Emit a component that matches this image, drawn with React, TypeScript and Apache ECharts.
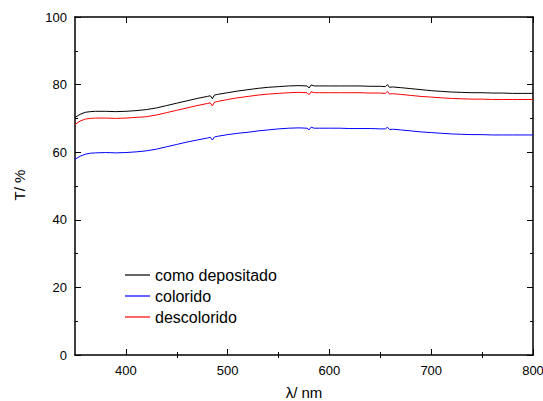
import React, { useEffect, useRef } from "react";
import * as echarts from "echarts";

const wavelengths = [350, 355, 360, 365, 370, 380, 390, 400, 410, 420, 430, 440, 450, 460, 470, 480, 483, 485, 487, 490, 500, 510, 520, 530, 540, 550, 560, 570, 578, 580, 582, 585, 590, 600, 610, 620, 630, 640, 650, 655, 657, 659, 662, 670, 680, 690, 700, 710, 720, 730, 740, 750, 760, 770, 780, 790, 800];

const comoDepositado = [70.3, 71.2, 71.8, 72.0, 72.1, 72.1, 72.0, 72.1, 72.3, 72.6, 73.1, 73.8, 74.5, 75.2, 75.9, 76.5, 76.7, 75.8, 76.9, 77.1, 77.6, 78.1, 78.5, 78.9, 79.2, 79.4, 79.6, 79.7, 79.6, 79.0, 79.9, 79.6, 79.6, 79.6, 79.6, 79.6, 79.6, 79.5, 79.5, 79.4, 80.0, 79.2, 79.3, 79.1, 78.8, 78.5, 78.2, 78.0, 77.8, 77.7, 77.6, 77.6, 77.5, 77.5, 77.4, 77.4, 77.4];

const colorido = [57.9, 58.8, 59.4, 59.7, 59.8, 59.9, 59.8, 59.9, 60.1, 60.4, 60.9, 61.6, 62.3, 63.0, 63.6, 64.2, 64.4, 63.6, 64.5, 64.7, 65.2, 65.6, 65.9, 66.3, 66.6, 66.9, 67.1, 67.2, 67.1, 66.6, 67.4, 67.1, 67.1, 67.1, 67.1, 67.0, 67.0, 67.0, 66.9, 66.9, 67.4, 66.7, 66.8, 66.6, 66.3, 66.0, 65.8, 65.6, 65.4, 65.3, 65.2, 65.2, 65.1, 65.1, 65.1, 65.1, 65.1];

const descolorido = [68.2, 69.2, 69.8, 70.0, 70.1, 70.1, 70.0, 70.1, 70.3, 70.5, 71.0, 71.7, 72.4, 73.1, 73.8, 74.4, 74.6, 73.7, 74.8, 75.0, 75.6, 76.1, 76.5, 76.9, 77.2, 77.4, 77.6, 77.7, 77.6, 77.0, 77.9, 77.6, 77.6, 77.6, 77.6, 77.6, 77.6, 77.5, 77.5, 77.4, 78.0, 77.2, 77.3, 77.1, 76.8, 76.5, 76.3, 76.1, 75.9, 75.8, 75.7, 75.7, 75.6, 75.6, 75.6, 75.6, 75.6];

const xMajorTicks = [400, 500, 600, 700, 800];
const xMinorTicks = [450, 550, 650, 750];
const seriesNames = ["como depositado", "colorido", "descolorido"];
const seriesColors = ["#000000", "#0000ff", "#ff0000"];

const FONT = "Liberation Sans, Arial, sans-serif";

export default function App() {
  const ref = useRef<HTMLDivElement>(null);
  useEffect(() => {
    if (!ref.current) return;
    const chart = echarts.init(ref.current, undefined, { renderer: "svg" });
    const axisLine = { show: true, onZero: false, lineStyle: { color: "#000", width: 1.5 } };
    const xBase = (position: string, ticks: number[], len: number, labels: boolean, line: boolean) => ({
      type: "value",
      position,
      min: 350,
      max: 800,
      axisLine: line ? axisLine : { show: false },
      axisTick: { show: true, inside: true, length: len, customValues: ticks, lineStyle: { color: "#000", width: 1 } },
      axisLabel: labels
        ? { show: true, customValues: xMajorTicks, margin: 9, color: "#000", fontSize: 13, fontFamily: FONT }
        : { show: false },
      splitLine: { show: false },
    });
    const yBase = (position: string, labels: boolean) => ({
      type: "value",
      position,
      min: 0,
      max: 100,
      interval: 20,
      axisLine,
      axisTick: { show: true, inside: true, length: 6, lineStyle: { color: "#000", width: 1 } },
      minorTick: { show: true, splitNumber: 2, length: 3, lineStyle: { color: "#000", width: 1 } },
      axisLabel: labels
        ? { show: true, margin: 8, color: "#000", fontSize: 13, fontFamily: FONT }
        : { show: false },
      splitLine: { show: false },
    });
    const seriesData = [comoDepositado, colorido, descolorido];
    chart.setOption({
      animation: false,
      backgroundColor: "#fff",
      grid: { left: 75, right: 10, top: 17, bottom: 46, containLabel: false, outerBoundsMode: "none" },
      xAxis: [
        xBase("bottom", xMajorTicks, 6, true, true),
        xBase("bottom", xMinorTicks, 3, false, false),
        xBase("top", xMajorTicks, 6, false, true),
        xBase("top", xMinorTicks, 3, false, false),
      ],
      yAxis: [yBase("left", true), yBase("right", false)],
      legend: {
        orient: "vertical",
        left: 125,
        top: 267,
        padding: 0,
        icon: "rect",
        itemWidth: 25,
        itemHeight: 1.2,
        itemGap: 5,
        textStyle: { fontSize: 16, color: "#000", fontFamily: FONT },
        data: seriesNames,
      },
      series: seriesNames.map((name, i) => ({
        name,
        type: "line",
        xAxisIndex: 0,
        yAxisIndex: 0,
        symbol: "none",
        color: seriesColors[i],
        lineStyle: { color: seriesColors[i], width: 1 },
        data: wavelengths.map((w, j) => [w, seriesData[i][j]]),
      })),
      graphic: [
        {
          type: "text",
          x: 304,
          y: 392,
          style: { text: "λ/ nm", fontSize: 15, fontFamily: FONT, fill: "#000", align: "center", verticalAlign: "middle" },
        },
        {
          type: "text",
          x: 19,
          y: 185,
          rotation: Math.PI / 2,
          style: { text: "T/ %", fontSize: 15, fontFamily: FONT, fill: "#000", align: "center", verticalAlign: "middle" },
        },
      ],
    });
    return () => chart.dispose();
  }, []);
  return <div ref={ref} style={{ width: 543, height: 401, position: "absolute", left: 0, top: 0 }} />;
}
